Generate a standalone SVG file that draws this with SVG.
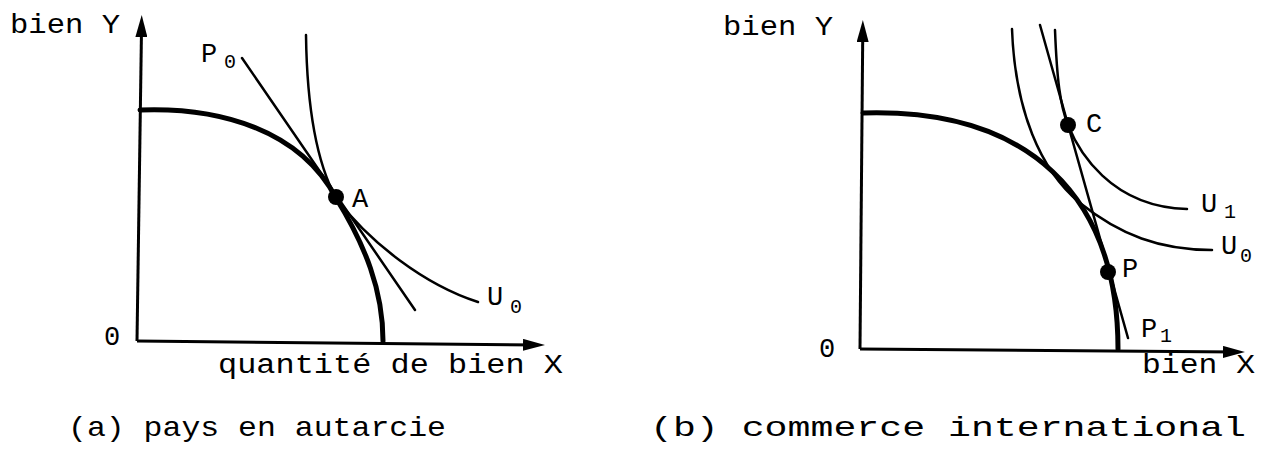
<svg xmlns="http://www.w3.org/2000/svg" width="1269" height="464" viewBox="0 0 1269 464">
<style>
text{font-family:"Liberation Mono","DejaVu Sans Mono",monospace;fill:#000;}
.lbl{font-size:27px;}
.sub{font-size:20px;}
.cap{font-size:28px;}
.axis{stroke:#000;stroke-width:3;fill:none;}
.ppf{stroke:#000;stroke-width:5;fill:none;stroke-linecap:round;}
.crv{stroke:#000;stroke-width:2.5;fill:none;stroke-linecap:round;}
.dot{fill:#000;}
</style>
<defs>
<marker id="arr" viewBox="0 0 22 12" refX="14" refY="6" markerWidth="22" markerHeight="12" markerUnits="userSpaceOnUse" orient="auto">
<path d="M0,0 L22,6 L0,12 z" fill="#000"/>
</marker>
</defs>
<rect width="1269" height="464" fill="#fff"/>

<g id="panel-a">
<g id="axes-a">
<path class="axis" d="M137,341 L141.6,23" marker-end="url(#arr)"/>
<path class="axis" d="M137,341 L537,345" marker-end="url(#arr)"/>
</g>
<g id="ppf-a"><path class="ppf" d="M140,110 C 220,107 300,130 336,198 C 365,245 383,290 383,341"/></g>
<g id="p0-line"><path class="crv" d="M242,58 L415,310"/></g>
<g id="u0-a"><path class="crv" d="M306,35 C 307,110 318,165 336,198 C 370,243 425,285 478,302"/></g>
<g id="point-A"><circle class="dot" cx="336" cy="197" r="8"/></g>
<g id="labels-a">
<text class="lbl" x="10" y="33" textLength="110" lengthAdjust="spacingAndGlyphs">bien Y</text>
<text class="lbl" x="104" y="345">0</text>
<text class="lbl" x="218" y="373" textLength="345" lengthAdjust="spacingAndGlyphs">quantité de bien X</text>
<text class="lbl" x="201" y="62">P</text><text class="sub" x="224" y="68">0</text>
<text class="lbl" x="352" y="207">A</text>
<text class="lbl" x="487" y="305">U</text><text class="sub" x="510" y="313">0</text>
</g>
</g>

<g id="panel-b">
<g id="axes-b">
<path class="axis" d="M860,349 L862.8,28" marker-end="url(#arr)"/>
<path class="axis" d="M860,349 L1237,352" marker-end="url(#arr)"/>
</g>
<g id="ppf-b"><path class="ppf" d="M863,113 C 1029,108 1118,196 1118,349"/></g>
<g id="p1-line"><path class="crv" d="M1040,25 L1128,338"/></g>
<g id="u0-b"><path class="crv" d="M1012,29 C 1015,110 1040,170 1080,203 C 1120,235 1160,250 1212,250"/></g>
<g id="u1-b"><path class="crv" d="M1055,30 C 1057,80 1060,105 1068,125 C 1078,150 1110,207 1187,209"/></g>
<g id="point-C"><circle class="dot" cx="1068" cy="125" r="8"/></g>
<g id="point-P"><circle class="dot" cx="1108" cy="272" r="8"/></g>
<g id="labels-b">
<text class="lbl" x="723" y="35" textLength="110" lengthAdjust="spacingAndGlyphs">bien Y</text>
<text class="lbl" x="819" y="357">0</text>
<text class="lbl" x="1142" y="373" textLength="113" lengthAdjust="spacingAndGlyphs">bien X</text>
<text class="lbl" x="1086" y="132">C</text>
<text class="lbl" x="1122" y="277">P</text>
<text class="lbl" x="1201" y="212">U</text><text class="sub" x="1224" y="218">1</text>
<text class="lbl" x="1221" y="254">U</text><text class="sub" x="1240" y="262">0</text>
<text class="lbl" x="1141" y="337">P</text><text class="sub" x="1160" y="342">1</text>
</g>
</g>

<g id="captions">
<text class="cap" x="68" y="436" textLength="378" lengthAdjust="spacingAndGlyphs">(a) pays en autarcie</text>
<text class="cap" x="650" y="436" textLength="596" lengthAdjust="spacingAndGlyphs">(b) commerce international</text>
</g>
</svg>
